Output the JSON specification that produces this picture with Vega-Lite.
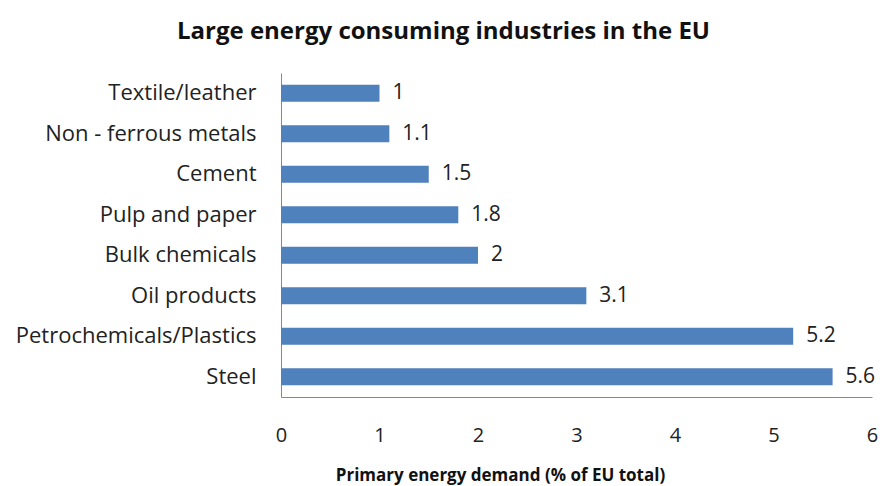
{
  "$schema": "https://vega.github.io/schema/vega-lite/v6.json",
  "autosize": {"type": "none"},
  "width": 591,
  "height": 324,
  "padding": {"left": 281, "top": 73, "right": 10, "bottom": 89},
  "background": "white",
  "config": {"view": {"stroke": null}},
  "title": {
    "text": "Large energy consuming industries in the EU",
    "font": "Open Sans",
    "fontSize": 24,
    "fontWeight": "bold",
    "color": "#111111",
    "anchor": "middle",
    "dx": -133,
    "offset": 29
  },
  "data": {
    "values": [
      {"industry": "Textile/leather", "value": 1},
      {"industry": "Non - ferrous metals", "value": 1.1},
      {"industry": "Cement", "value": 1.5},
      {"industry": "Pulp and paper", "value": 1.8},
      {"industry": "Bulk chemicals", "value": 2},
      {"industry": "Oil products", "value": 3.1},
      {"industry": "Petrochemicals/Plastics", "value": 5.2},
      {"industry": "Steel", "value": 5.6}
    ]
  },
  "encoding": {
    "y": {
      "field": "industry",
      "type": "nominal",
      "sort": null,
      "scale": {"paddingInner": 0.58, "paddingOuter": 0.29},
      "axis": {
        "title": null,
        "ticks": false,
        "domainColor": "#888888",
        "labelFont": "Open Sans",
        "labelFontSize": 22,
        "labelColor": "#222222",
        "labelPadding": 25,
        "labelLimit": 400
      }
    },
    "x": {
      "field": "value",
      "type": "quantitative",
      "scale": {"domain": [0, 6], "nice": false},
      "axis": {
        "title": "Primary energy demand (% of EU total)",
        "titleFont": "Open Sans",
        "titleFontSize": 17,
        "titleFontWeight": "bold",
        "titleColor": "#111111",
        "titleX": 219,
        "titleY": 87,
        "titleBaseline": "bottom",
        "grid": false,
        "ticks": false,
        "domainColor": "#888888",
        "values": [0, 1, 2, 3, 4, 5, 6],
        "labelOverlap": false,
        "labelFont": "Open Sans",
        "labelFontSize": 20,
        "labelColor": "#222222",
        "labelPadding": 28,
        "labelFlush": false
      }
    }
  },
  "layer": [
    {"mark": {"type": "bar", "color": "#4f81bd"}},
    {
      "mark": {"type": "text", "align": "left", "dx": 13, "font": "Open Sans", "fontSize": 21, "color": "#222222"},
      "encoding": {"text": {"field": "value", "type": "quantitative"}}
    }
  ]
}
